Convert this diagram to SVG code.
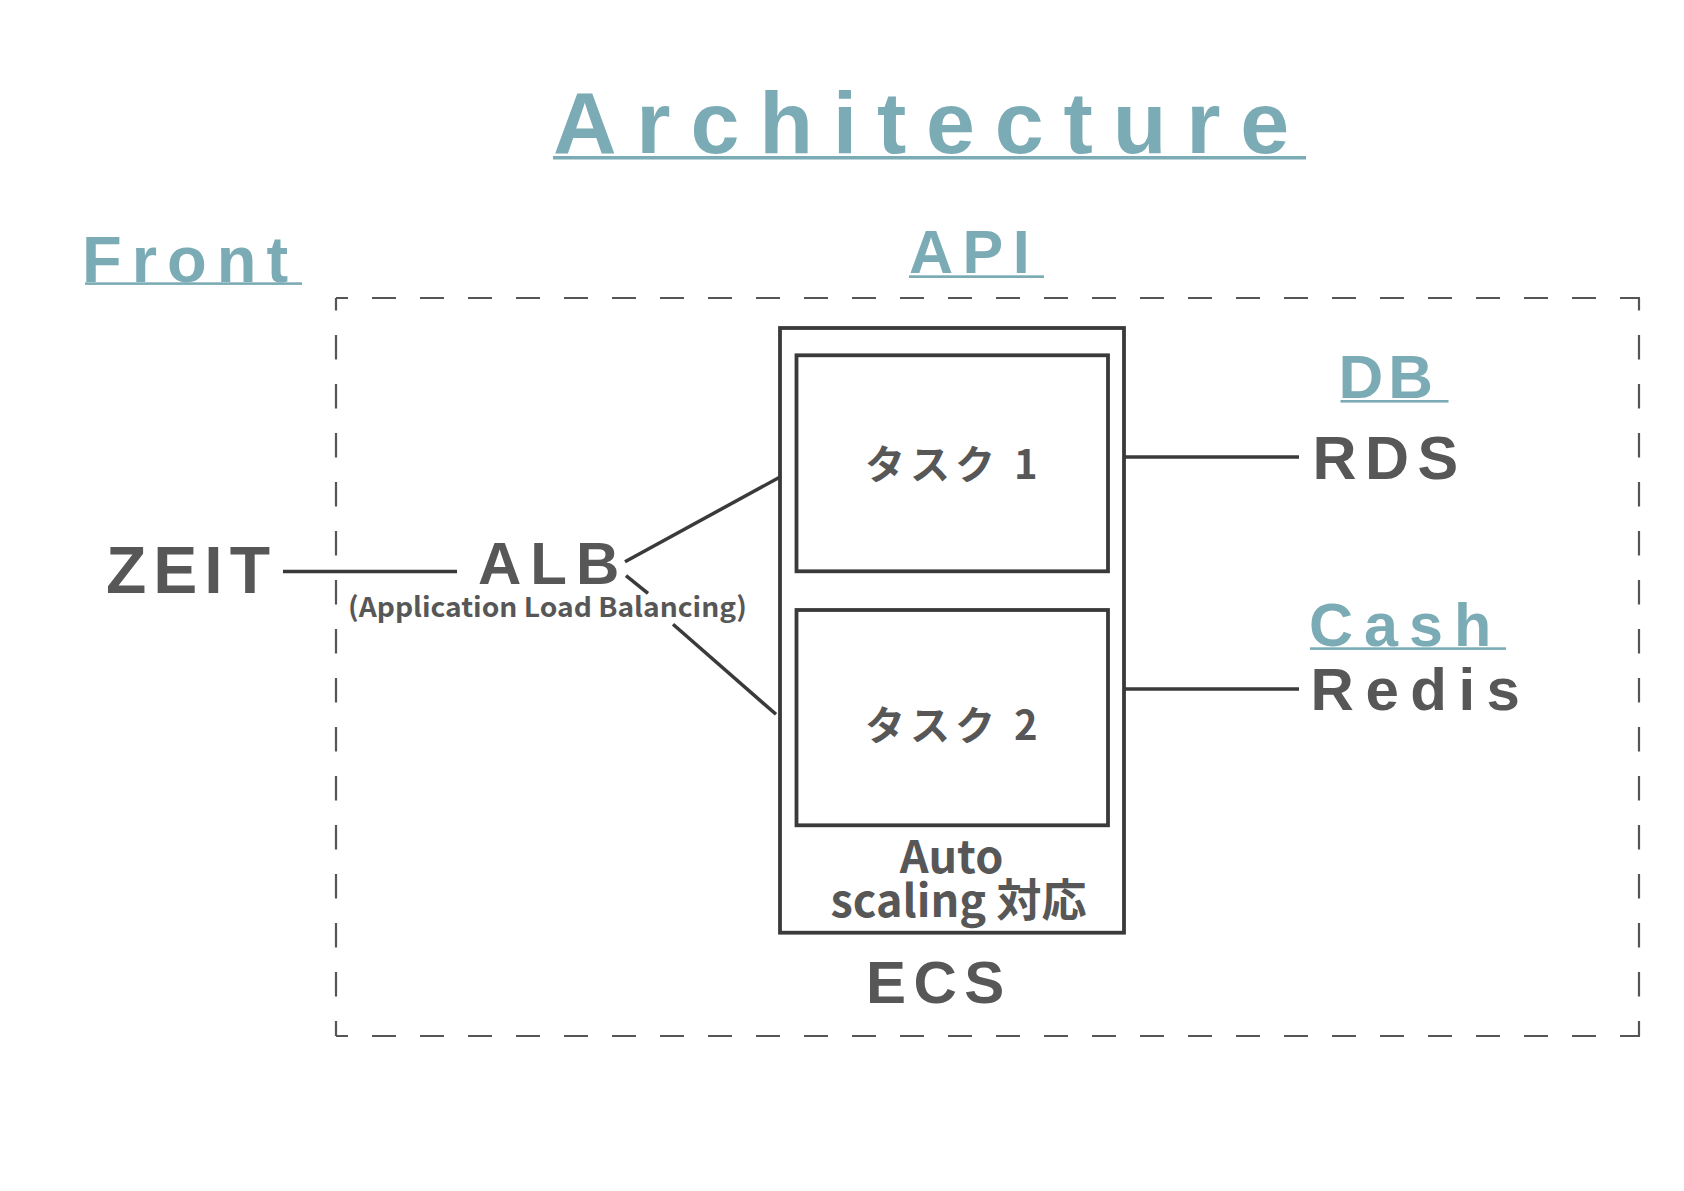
<svg xmlns="http://www.w3.org/2000/svg" width="1684" height="1191" viewBox="0 0 1684 1191">
<style>
.h{font-family:"Liberation Sans",Arial,sans-serif;font-weight:700;fill:#7BABB5}
.t{font-family:"Liberation Sans",Arial,sans-serif;font-weight:700;fill:#575757}
.jp{font-family:"Noto Sans CJK JP","Liberation Sans",sans-serif;font-weight:700;fill:#575757}
.ul{fill:#7BABB5}
.box{fill:none;stroke:#3a3a3a;stroke-width:3.8}
.conn{fill:none;stroke:#3a3a3a;stroke-width:3.5}
.dh{fill:none;stroke:#555;stroke-width:2.2;stroke-dasharray:24 24;stroke-dashoffset:12}
.dv{fill:none;stroke:#555;stroke-width:2.2;stroke-dasharray:24.5 24.5;stroke-dashoffset:12}
</style>
<rect width="1684" height="1191" fill="#fff"/>
<g id="boundary">
<path class="dh" d="M336,298 H1640"/>
<path class="dh" d="M336,1036 H1640"/>
<path class="dv" d="M336,298 V1036"/>
<path class="dv" d="M1639,298 V1036"/>
</g>
<g id="title">
<text class="h" x="553" y="152.7" font-size="88" letter-spacing="19.8">Architecture</text>
<rect class="ul" x="553" y="156" width="753" height="3.5"/>
</g>
<g id="label-front">
<text class="h" x="82" y="281.7" font-size="65" letter-spacing="10">Front</text>
<rect class="ul" x="85" y="282.3" width="217" height="2.6"/>
</g>
<g id="label-api">
<text class="h" x="909" y="272.7" font-size="61" letter-spacing="9.5">API</text>
<rect class="ul" x="909" y="275.3" width="135" height="2.7"/>
</g>
<g id="label-db">
<text class="h" x="1338.5" y="398" font-size="62" letter-spacing="5">DB</text>
<rect class="ul" x="1340.5" y="400" width="108" height="2.6"/>
</g>
<g id="label-cash">
<text class="h" x="1309" y="646" font-size="61" letter-spacing="11">Cash</text>
<rect class="ul" x="1310" y="647.3" width="196" height="2.6"/>
</g>
<g id="connectors">
<path class="conn" d="M283,571.5 H457"/>
<path class="conn" d="M625,561.7 L781,476.5"/>
<path class="conn" d="M626,575.7 L648,593.3"/>
<path class="conn" d="M673,624.3 L776,714.3"/>
<path class="conn" d="M1124,457 H1299"/>
<path class="conn" d="M1124,689 H1299"/>
</g>
<g id="node-zeit">
<text class="t" x="106" y="592.7" font-size="66" letter-spacing="7">ZEIT</text>
</g>
<g id="node-alb">
<text class="t" x="478" y="584" font-size="60" letter-spacing="9">ALB</text>
<text class="jp" x="348" y="617" font-size="27" textLength="399" lengthAdjust="spacingAndGlyphs">(Application Load Balancing)</text>
</g>
<g id="node-ecs">
<rect class="box" x="780" y="328" width="344" height="604.7"/>
<text class="jp" x="951.5" y="872.7" font-size="45" text-anchor="middle">Auto</text>
<text class="jp" x="958.5" y="916.7" font-size="45" text-anchor="middle">scaling 対応</text>
<text class="t" x="866" y="1002.7" font-size="60" letter-spacing="7.5">ECS</text>
</g>
<g id="node-task1">
<rect class="box" x="796.5" y="355.3" width="311.5" height="216"/>
<text class="jp" x="865" y="479" font-size="40" letter-spacing="5">タスク 1</text>
</g>
<g id="node-task2">
<rect class="box" x="796.5" y="610" width="311.5" height="215.3"/>
<text class="jp" x="865" y="740" font-size="40" letter-spacing="5">タスク 2</text>
</g>
<g id="node-rds">
<text class="t" x="1312.5" y="479" font-size="61" letter-spacing="8.5">RDS</text>
</g>
<g id="node-redis">
<text class="t" x="1310.6" y="710" font-size="60" letter-spacing="11.5">Redis</text>
</g>
</svg>
